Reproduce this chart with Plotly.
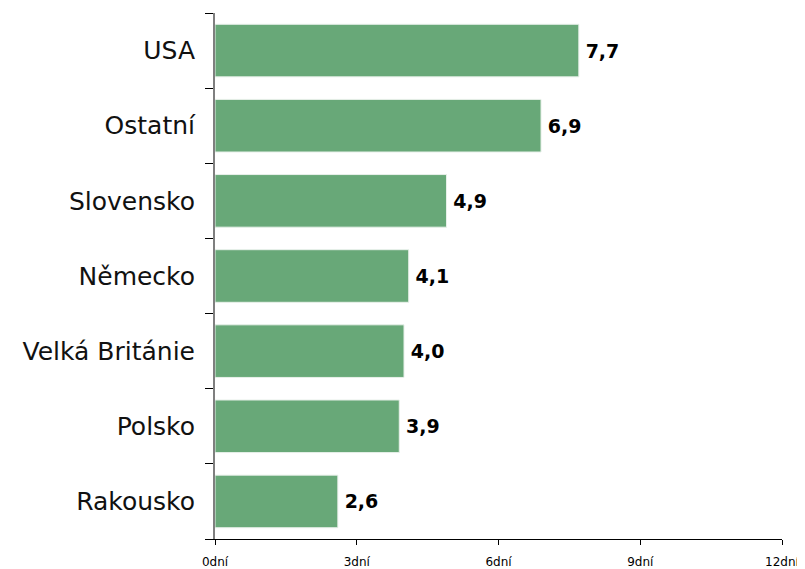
import plotly.graph_objects as go

countries = ["USA", "Ostatní", "Slovensko", "Německo", "Velká Británie", "Polsko", "Rakousko"]
days = [7.7, 6.9, 4.9, 4.1, 4.0, 3.9, 2.6]
x_ticks = [0, 3, 6, 9, 12]
x_tick_labels = ["0dní", "3dní", "6dní", "9dní", "12dní"]

fig = go.Figure(go.Bar(
    x=days,
    y=countries,
    orientation="h",
    marker=dict(color="#68a878", line=dict(color="#e8f0ea", width=1)),
    texttemplate="\u2009%{x:.1f}",
    textposition="outside",
    textfont=dict(family="DejaVu Sans", size=19, color="black", weight="bold"),
    cliponaxis=False,
    hoverinfo="skip",
))

# the page body adds ~8px around the figure, so the figure is a bit smaller
fig.update_layout(
    width=797, height=561,
    margin=dict(l=207, r=23, t=5, b=30),
    plot_bgcolor="white",
    paper_bgcolor="white",
    bargap=0.3,
    separators=", ",
    showlegend=False,
    font=dict(family="DejaVu Sans", color="black"),
)

fig.update_xaxes(
    range=[0, 12],
    tickvals=x_ticks,
    ticktext=x_tick_labels,
    tickfont=dict(size=12),
    showgrid=False,
    zeroline=False,
    showline=True,
    linecolor="black",
    linewidth=1,
    ticks="outside",
    ticklen=5,
    tickcolor="black",
    ticklabelstandoff=7,
    automargin=False,
)

fig.update_yaxes(
    categoryorder="array",
    categoryarray=countries[::-1],
    tickfont=dict(size=25, color="#111111"),
    showgrid=False,
    showline=True,
    linecolor="#7f7f7f",
    linewidth=2,
    ticks="outside",
    tickson="boundaries",
    ticklen=8,
    tickcolor="black",
    ticklabelstandoff=13,
    automargin=False,
)

fig.write_html("out.html")
